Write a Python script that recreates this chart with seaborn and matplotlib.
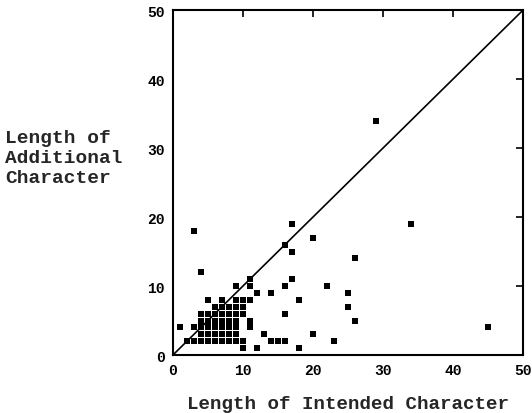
import matplotlib
matplotlib.use("Agg")
import matplotlib.pyplot as plt
import seaborn as sns
import pandas as pd

# Character lengths: intended (x) vs. additional (y)
intended = [
    3, 29, 17, 20, 34, 16, 17, 26, 4, 9, 11, 11, 12, 14, 16, 17, 22, 18, 25, 25,
    26, 16, 45, 16, 20, 23, 18, 14, 15, 13, 12, 10, 1, 2, 3,
    5, 7, 9, 10, 11,
    6, 7, 8, 9, 10,
    4, 5, 6, 7, 8, 9, 10,
    4, 5, 6, 7, 8, 9, 11,
    3, 4, 5, 6, 7, 8, 9, 11,
    4, 5, 6, 7, 8, 9,
    4, 5, 6, 7, 8, 9, 10,
]
additional = [
    18, 34, 19, 17, 19, 16, 15, 14, 12, 10, 11, 10, 9, 9, 10, 11, 10, 8, 9, 7,
    5, 6, 4, 2, 3, 2, 1, 2, 2, 3, 1, 1, 4, 2, 2,
    8, 8, 8, 8, 8,
    7, 7, 7, 7, 7,
    6, 6, 6, 6, 6, 6, 6,
    5, 5, 5, 5, 5, 5, 5,
    4, 4, 4, 4, 4, 4, 4, 4,
    3, 3, 3, 3, 3, 3,
    2, 2, 2, 2, 2, 2, 2,
]
diag = [0, 50]
ticks = [0, 10, 20, 30, 40, 50]

df = pd.DataFrame({"intended": intended, "additional": additional})

sns.set_theme(style="white")
plt.rcParams["font.family"] = ["Liberation Mono", "DejaVu Sans Mono"]
plt.rcParams["font.weight"] = "bold"

fig = plt.figure(figsize=(5.32, 4.14), dpi=100)
ax = fig.add_axes([0.325, 0.14, 0.658, 0.833])

sns.lineplot(x=diag, y=diag, ax=ax, color="black", linewidth=1.2)
sns.scatterplot(data=df, x="intended", y="additional", ax=ax, marker="s",
                s=19, color="black", edgecolor="black", linewidth=0)

ax.set_xlim(0, 50)
ax.set_ylim(0, 50)
ax.set_xticks(ticks)
ax.set_yticks(ticks)
ax.set_xticklabels([str(t) for t in ticks], fontsize=10.5, fontweight="bold")
ax.set_yticklabels([str(t) for t in ticks], fontsize=10.5, fontweight="bold")
ax.tick_params(direction="in", length=5, width=1.2, top=True, right=True,
               colors="black", pad=6)
for sp in ax.spines.values():
    sp.set_color("black")
    sp.set_linewidth(1.5)

ax.set_xlabel("Length of Intended Character", fontsize=13.8,
              fontweight="bold", labelpad=13)
ax.set_ylabel("")
fig.text(0.010, 0.617, "Length of\nAdditional\nCharacter", fontsize=14,
         fontweight="bold", ha="left", va="center", linespacing=1.25)

fig.savefig("out.png", dpi=100, facecolor="white")
